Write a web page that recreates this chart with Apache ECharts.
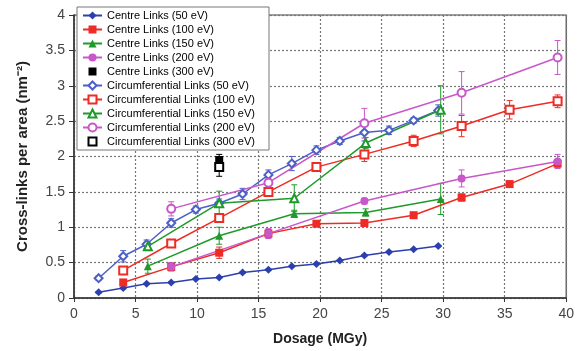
<!DOCTYPE html>
<html><head><meta charset="utf-8">
<script src="https://cdn.jsdelivr.net/npm/echarts@6/dist/echarts.min.js"></script>
<style>html,body{margin:0;padding:0;background:#fff}#c{width:577px;height:351px}</style>
</head><body><div id="c"></div>
<script>
// ---- data ----
const names = ['Centre Links (50 eV)','Centre Links (100 eV)','Centre Links (150 eV)','Centre Links (200 eV)','Centre Links (300 eV)',
  'Circumferential Links (50 eV)','Circumferential Links (100 eV)','Circumferential Links (150 eV)','Circumferential Links (200 eV)','Circumferential Links (300 eV)'];
const x50 = [2,4,5.9,7.9,9.9,11.8,13.7,15.8,17.7,19.7,21.6,23.6,25.6,27.6,29.6];
const centre50 = [0.08,0.14,0.2,0.22,0.27,0.29,0.36,0.40,0.45,0.48,0.53,0.6,0.65,0.69,0.735];
const centre50Err = [0.01,0.01,0.01,0.01,0.01,0.01,0.01,0.01,0.01,0.01,0.01,0.01,0.01,0.01,0.01];
const circ50 = [0.28,0.59,0.76,1.06,1.25,1.34,1.47,1.74,1.90,2.09,2.22,2.34,2.37,2.51,2.65];
const circ50Err = [0.03,0.08,0.06,0.06,0.05,0.06,0.08,0.07,0.1,0.06,0.05,0.12,0.06,0.04,0.08];
const x100 = [4,7.9,11.8,15.8,19.7,23.6,27.6,31.5,35.4,39.3];
const centre100 = [0.22,0.44,0.64,0.91,1.05,1.06,1.17,1.42,1.61,1.90];
const centre100Err = [0.03,0.05,0.08,0.06,0.04,0.04,0.04,0.05,0.04,0.05];
const circ100 = [0.39,0.77,1.13,1.50,1.85,2.03,2.22,2.43,2.66,2.78];
const circ100Err = [0.04,0.04,0.05,0.05,0.05,0.1,0.08,0.15,0.13,0.09];
const x150 = [6,11.8,17.9,23.7,29.8];
const centre150 = [0.45,0.88,1.19,1.21,1.40];
const centre150Err = [0.1,0.12,0.05,0.05,0.22];
const circ150 = [0.73,1.34,1.41,2.19,2.66];
const circ150Err = [0.06,0.17,0.19,0.08,0.34];
const x200 = [7.9,15.8,23.6,31.5,39.3];
const centre200 = [0.44,0.91,1.37,1.69,1.93];
const centre200Err = [0.06,0.07,0.04,0.12,0.1];
const circ200 = [1.26,1.63,2.47,2.90,3.40];
const circ200Err = [0.1,0.06,0.21,0.3,0.24];
const x300 = [11.8];
const centre300 = [1.95];
const centre300Err = [0.08];
const circ300 = [1.85];
const circ300Err = [0.13];

const blue='#2c3fae', blue2='#4d5fc8', red='#ee2b24', green='#1f9a2a', mag='#c957c9', black='#000000';

function pairs(xs, ys){ return xs.map((x,i)=>[x, ys[i]]); }
function triples(xs, ys, es){ return xs.map((x,i)=>[x, ys[i], es[i]]); }

function lineSeries(name, xs, ys, color, symbol, size, noLine){
  return {name, type:'line', data:pairs(xs,ys), symbol, symbolSize:size,
    itemStyle:{color}, lineStyle:{color, width:1.5, opacity: noLine ? 0 : 1}, z:3, animation:false};
}
function errSeries(xs, ys, es, color){
  return {type:'custom', data:triples(xs,ys,es), z:2, animation:false, silent:true,
    encode:{x:0, y:1},
    renderItem:function(params, api){
      const x=api.value(0), y=api.value(1), e=api.value(2);
      const t=api.coord([x,y+e]), b=api.coord([x,y-e]);
      const w=3;
      const st={stroke:color, lineWidth:1};
      return {type:'group', children:[
        {type:'line', shape:{x1:t[0],y1:t[1],x2:b[0],y2:b[1]}, style:st},
        {type:'line', shape:{x1:t[0]-w,y1:t[1],x2:t[0]+w,y2:t[1]}, style:st},
        {type:'line', shape:{x1:b[0]-w,y1:b[1],x2:b[0]+w,y2:b[1]}, style:st}
      ]};
    }};
}

const series = [
  lineSeries(names[0], x50, centre50, blue, 'diamond', 8),
  lineSeries(names[1], x100, centre100, red, 'rect', 8),
  lineSeries(names[2], x150, centre150, green, 'triangle', 8),
  lineSeries(names[3], x200, centre200, mag, 'circle', 8),
  lineSeries(names[4], x300, centre300, black, 'rect', 8, true),
  lineSeries(names[5], x50, circ50, blue2, 'emptyDiamond', 8),
  lineSeries(names[6], x100, circ100, red, 'emptyRect', 8),
  lineSeries(names[7], x150, circ150, green, 'emptyTriangle', 8),
  lineSeries(names[8], x200, circ200, mag, 'emptyCircle', 8),
  lineSeries(names[9], x300, circ300, black, 'emptyRect', 8, true),
  errSeries(x50, centre50, centre50Err, blue),
  errSeries(x100, centre100, centre100Err, red),
  errSeries(x150, centre150, centre150Err, green),
  errSeries(x200, centre200, centre200Err, mag),
  errSeries(x300, centre300, centre300Err, black),
  errSeries(x50, circ50, circ50Err, blue2),
  errSeries(x100, circ100, circ100Err, red),
  errSeries(x150, circ150, circ150Err, green),
  errSeries(x200, circ200, circ200Err, mag),
  errSeries(x300, circ300, circ300Err, black)
];

const chart = echarts.init(document.getElementById('c'), null, {renderer:'canvas'});
const font = 'Arial, "Liberation Sans", sans-serif';
chart.setOption({
  backgroundColor:'#fff',
  animation:false,
  textStyle:{fontFamily:font},
  grid:{left:74, right:10, top:15, bottom:53, show:true, borderColor:'#444', borderWidth:1.2, backgroundColor:'transparent'},
  legend:{
    data:names, orient:'vertical', left:77, top:7,
    backgroundColor:'#fff', borderColor:'#777', borderWidth:1, padding:[3,4,3,5],
    itemWidth:19, itemHeight:10, itemGap:3, selectedMode:false, z:10,
    textStyle:{fontFamily:font, fontSize:11, lineHeight:10, color:'#000', width:158, overflow:'truncate', ellipsis:''}
  },
  xAxis:{type:'value', min:0, max:40, interval:5,
    name:'Dosage (MGy)', nameLocation:'middle', nameGap:34,
    nameTextStyle:{fontFamily:font, fontSize:14, fontWeight:'bold', color:'#222'},
    axisLine:{show:true, lineStyle:{color:'#333', width:1.5}},
    axisTick:{show:true, length:4, lineStyle:{color:'#333'}},
    axisLabel:{fontFamily:font, fontSize:14, color:'#444', margin:9},
    splitLine:{show:true, lineStyle:{color:'#777', type:[2,2], width:1.2}}
  },
  yAxis:{type:'value', min:0, max:4, interval:0.5,
    name:'Cross-links per area (nm\u207B\u00B2)', nameLocation:'middle', nameGap:44,
    nameTextStyle:{fontFamily:font, fontSize:15, fontWeight:'bold', color:'#222'},
    axisLine:{show:true, lineStyle:{color:'#333', width:1.5}},
    axisTick:{show:true, length:5, lineStyle:{color:'#333'}},
    axisLabel:{fontFamily:font, fontSize:14, color:'#444', margin:9},
    splitLine:{show:true, lineStyle:{color:'#777', type:[2,2], width:1.2}}
  },
  series
});
</script></body></html>
